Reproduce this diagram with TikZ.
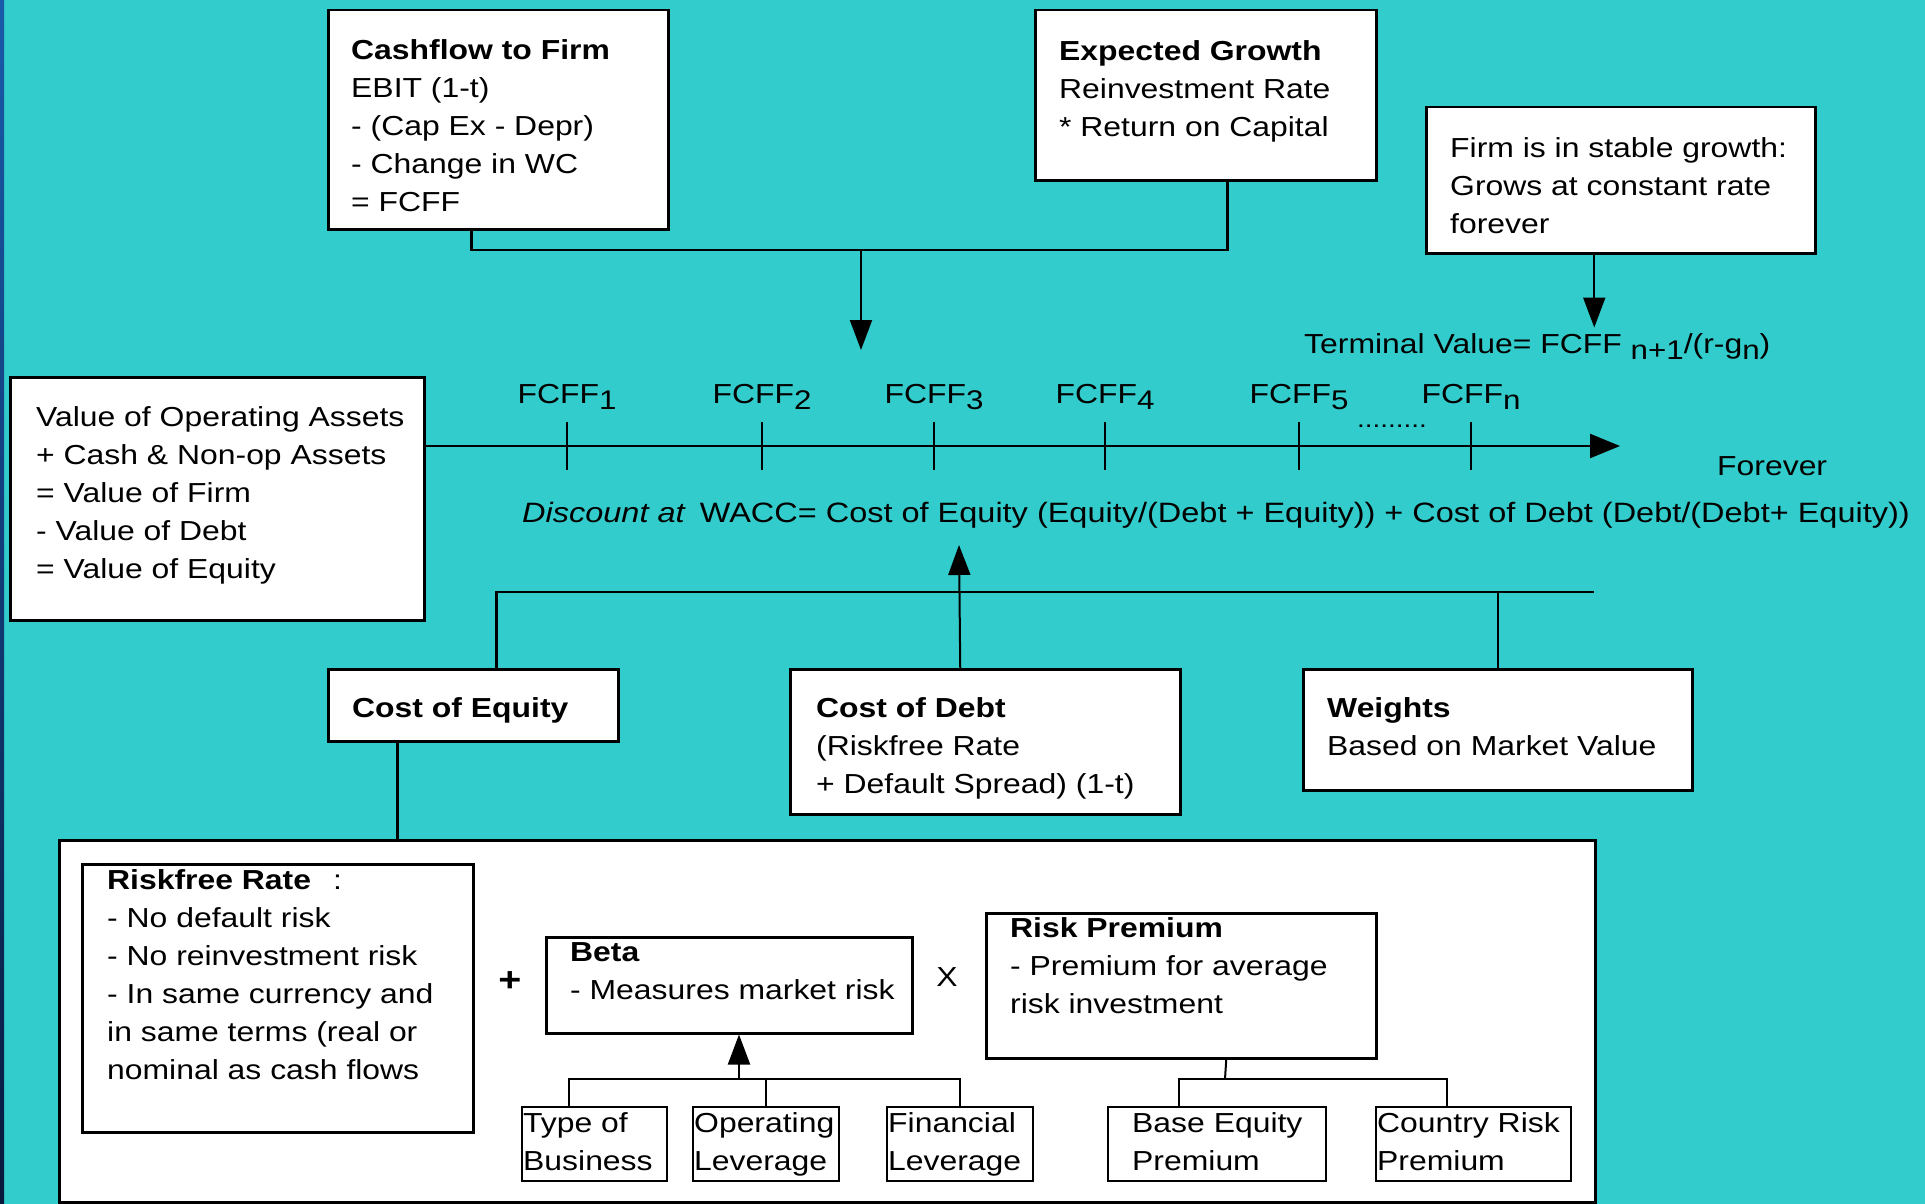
\documentclass[tikz,border=0pt]{standalone}
\usepackage{fontspec}
\setmainfont{Liberation Sans}[FakeStretch=1.16]
\usetikzlibrary{arrows.meta}
\definecolor{bgteal}{RGB}{51,204,204}
\definecolor{stripTop}{RGB}{25,90,170}
\definecolor{stripBot}{RGB}{8,25,60}
\newcommand\fs{\fontsize{27.5}{38}\selectfont}
\newcommand\lsub[1]{\raisebox{-6pt}{\fontsize{27}{27}\selectfont #1}}
\begin{document}
\begin{tikzpicture}[x=1pt,y=-1pt,
 box/.style={draw=black, line width=2.5pt, fill=white, inner sep=0pt, anchor=north west},
 sbox/.style={box, line width=2pt},
 txt/.style={anchor=north west, inner sep=0pt, align=left, font=\fs},
 lbl/.style={font=\fs, inner sep=0pt},
 conn/.style={line width=2.5pt},
 sconn/.style={line width=2pt},
 arr/.style={line width=2pt, -{Triangle[length=30pt,width=22pt]}},
 tick/.style={line width=2pt}]
\fill[bgteal] (0,0) rectangle (1925,1204);
\shade[top color=stripTop, bottom color=stripBot] (0,0) rectangle (4,1204);
\useasboundingbox (0,0) rectangle (1925,1204);

% boxes
\node[box, minimum width=340pt, minimum height=219pt] (cf) at (327,9) {};
\node[box, minimum width=341pt, minimum height=170pt] (eg) at (1034,9) {};
\node[box, minimum width=389pt, minimum height=146pt] (sg) at (1425,106) {};
\node[box, minimum width=414pt, minimum height=243pt] (va) at (9,376) {};
\node[box, minimum width=290pt, minimum height=72pt] (coe) at (327,668) {};
\node[box, minimum width=390pt, minimum height=145pt] (cod) at (789,668) {};
\node[box, minimum width=389pt, minimum height=121pt] (wt) at (1302,668) {};
\node[box, minimum width=1536pt, minimum height=362pt] (big) at (58,839) {};
\node[box, minimum width=391pt, minimum height=268pt] (rf) at (81,863) {};
\node[box, minimum width=366pt, minimum height=96pt] (beta) at (545,936) {};
\node[box, minimum width=390pt, minimum height=145pt] (rp) at (985,912) {};
\node[sbox, minimum width=145pt, minimum height=74pt] (tob) at (521,1106) {};
\node[sbox, minimum width=146pt, minimum height=74pt] (ol) at (692,1106) {};
\node[sbox, minimum width=146pt, minimum height=74pt] (fl) at (886,1106) {};
\node[sbox, minimum width=218pt, minimum height=74pt] (bep) at (1107,1106) {};
\node[sbox, minimum width=195pt, minimum height=74pt] (crp) at (1375,1106) {};

% box texts
\node[txt] (cft) at (351,39) {\textbf{Cashflow to Firm}\\EBIT (1-t)\\- (Cap Ex - Depr)\\- Change in WC\\= FCFF};
\node[txt] (egt) at (1059,40) {\textbf{Expected Growth}\\Reinvestment Rate\\* Return on Capital};
\node[txt] (sgt) at (1450,137) {Firm is in stable growth:\\Grows at constant rate\\forever};
\node[txt] (vat) at (36,406) {Value of Operating Assets\\+ Cash \& Non-op Assets\\= Value of Firm\\- Value of Debt\\= Value of Equity};
\node[txt] (coet) at (352,697) {\textbf{Cost of Equity}};
\node[txt] (codt) at (816,697) {\textbf{Cost of Debt}\\(Riskfree Rate\\+ Default Spread) (1-t)};
\node[txt] (wtt) at (1327,697) {\textbf{Weights}\\Based on Market Value};
\node[txt] (rft) at (107,869) {\textbf{Riskfree Rate}\hspace{22pt}:\\- No default risk\\- No reinvestment risk\\- In same currency and\\in same terms (real or\\nominal as cash flows};
\node[txt] (betat) at (570,942) {\textbf{Beta}\\- Measures market risk};
\node[txt] (rpt) at (1010,917) {\textbf{Risk Premium}\\- Premium for average\\risk investment};
\node[txt] (tobt) at (523,1112) {Type of\\Business};
\node[txt] (olt) at (694,1112) {Operating\\Leverage};
\node[txt] (flt) at (888,1112) {Financial\\Leverage};
\node[txt] (bept) at (1132,1112) {Base Equity\\Premium};
\node[txt] (crpt) at (1377,1112) {Country Risk\\Premium};

% free labels
\node[lbl, anchor=base west] (tv) at (1304,353) {Terminal Value= FCFF \lsub{n+1}/(r-g\lsub{n})};
\node[lbl, anchor=base west] (fe) at (1717,475) {Forever};
\node[lbl, anchor=base west, font=\fontsize{28}{28}\selectfont] (disc) at (522,522) {\textit{Discount at}\hspace{14pt}WACC= Cost of Equity (Equity/(Debt + Equity)) + Cost of Debt (Debt/(Debt+ Equity))};
\node[lbl, anchor=base, font=\fontsize{24}{24}\selectfont] (dots) at (1392,427) {.........};
\node[lbl, font=\fontsize{34}{34}\selectfont\bfseries] (plus) at (510,982) {+};
\node[lbl] (times) at (947,977) {X};

% timeline
\coordinate (tlend) at (1620,446);
\draw[line width=2.5pt, -{Triangle[length=30pt,width=24pt]}] ([yshift=-70pt]va.north east) -- (tlend);
\foreach \x/\s [count=\i] in {567/1,762/2,934/3,1105/4,1299/5,1471/n} {
  \node[lbl, anchor=base] (f\i) at (\x,403) {FCFF\lsub{\s}};
  \draw[tick] (\x,422) -- (\x,470);
}

% top connectors
\coordinate (j1) at (861,250);
\coordinate (flowtip) at (861,350);
\draw[conn] ([xshift=-27pt]cf.south) |- (j1) -| ([xshift=21.5pt]eg.south);
\draw[arr] (j1) -- (flowtip);
\draw[arr] ([xshift=-26.5pt]sg.south) -- ++(0,73);

% WACC inputs
\coordinate (brR) at (1594,592);
\coordinate (wacctip) at (959,545);
\draw[conn] ([xshift=23pt]coe.north) |- (brR);
\draw[conn] (wt.north) -- (wt.north |- brR);
\draw[arr] ([xshift=-25pt]cod.north) -- (wacctip);
\draw[conn] ([xshift=-76pt]coe.south) -- ([xshift=-76pt]coe.south |- big.north);

% beta drivers
\coordinate (bj) at (739,1079);
\draw[sconn] ([xshift=-25.5pt]tob.north) |- (bj) -| (fl.north);
\draw[sconn] (ol.north) -- (ol.north |- bj);
\draw[arr] (bj) -- (beta.south -| bj);

% risk premium drivers
\coordinate (rj) at (1225,1079);
\draw[sconn] ([xshift=45pt]rp.south) -- (rj);
\draw[sconn] ([xshift=-38pt]bep.north) |- (rj) -| ([xshift=-26.5pt]crp.north);
\end{tikzpicture}
\end{document}
